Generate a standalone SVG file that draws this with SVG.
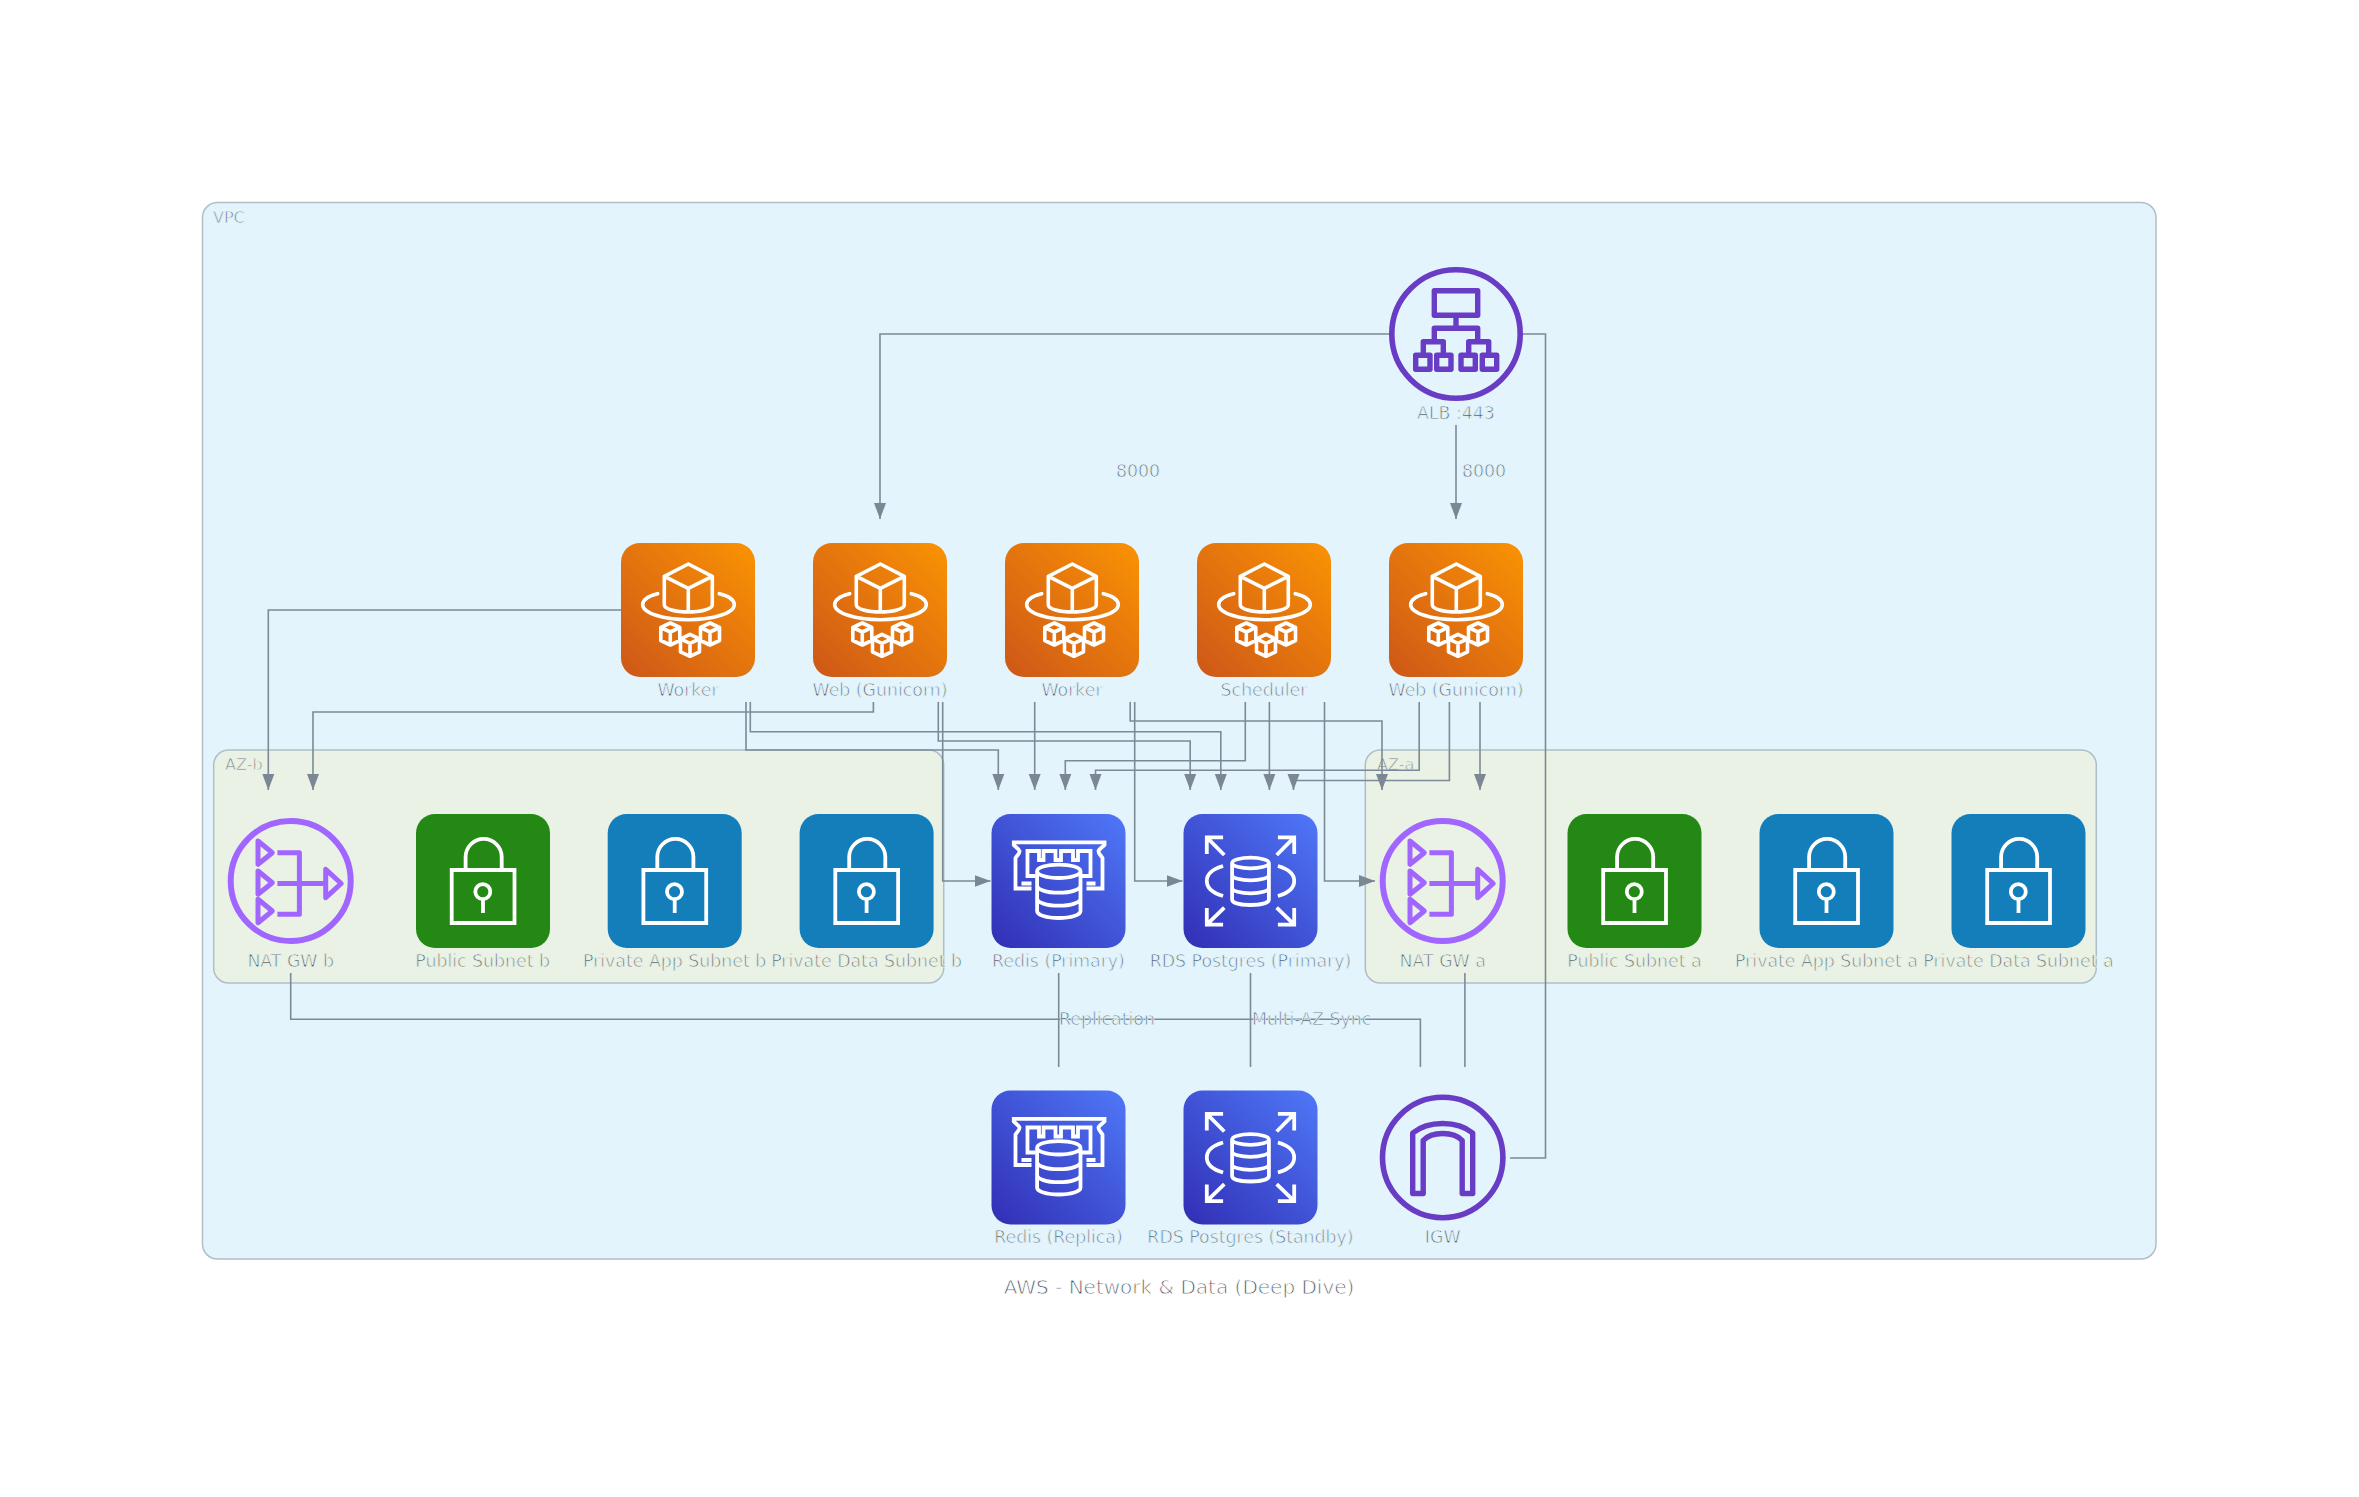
<svg xmlns="http://www.w3.org/2000/svg" xmlns:xlink="http://www.w3.org/1999/xlink" width="2359" height="1497" viewBox="0 0 2359 1497">
<style>
text{font-family:"DejaVu Sans","Liberation Sans",sans-serif;fill:#46525C;font-size:17.33px;stroke:#E3F4FC;stroke-width:.85}
.lb{text-anchor:middle}
.cl{font-size:16px}
.tt{font-size:20px;text-anchor:middle;stroke:#fff}
.oa{stroke:#EAF2E6}
.vpc{fill:#E3F4FC;stroke:#B0BEC5;stroke-width:1.5}
.az{fill:#EAF2E6;stroke:#B0BEC5;stroke-width:1.5}
.e{fill:none;stroke:#7B8A96;stroke-width:1.6}
.a{marker-end:url(#ah)}
.w{fill:none;stroke:#fff;stroke-width:3.6;stroke-linejoin:round;stroke-linecap:round}
.w2{fill:none;stroke:#fff;stroke-width:3.8;stroke-linejoin:miter;stroke-linecap:butt}
.n{fill:none;stroke:#A166FF;stroke-width:5;stroke-linejoin:round;stroke-linecap:butt}
.p{fill:none;stroke:#693CC5;stroke-width:5.4;stroke-linejoin:round;stroke-linecap:butt}
</style>
<defs>
<linearGradient id="go" x1="-0.1" y1="1.1" x2="1.1" y2="-0.1"><stop offset="0" stop-color="#C8511B"/><stop offset="1" stop-color="#FF9900"/></linearGradient>
<linearGradient id="gb" x1="-0.1" y1="1.1" x2="1.1" y2="-0.1"><stop offset="0" stop-color="#2E27AD"/><stop offset="1" stop-color="#527FFF"/></linearGradient>
<marker id="ah" markerUnits="userSpaceOnUse" markerWidth="17" markerHeight="14" refX="16" refY="7" orient="auto"><path d="M0 1 L16 7 L0 13 Z" fill="#7B8794"/></marker>
<g id="cube"><path d="M0-11 L9.5-6.5 V6.5 L0 11 L-9.5 6.5 V-6.5 Z M-9.5-6.5 L0-2 L9.5-6.5 M0-2 V11" class="w"/></g>
<g id="fargate">
<rect width="134" height="134" rx="19" fill="url(#go)"/>
<path class="w" d="M67.3 21 L91.3 33.3 V61.7 C91.3 66 80 69 67.3 69 C54.6 69 43.3 66 43.3 61.7 V33.3 Z M43.3 33.3 L67.3 45.3 L91.3 33.3 M67.3 45.3 V69"/>
<path class="w" d="M36.7 50.7 C27 53 21.7 57 21.7 61.7 C21.7 70 42 76.7 67.3 76.7 C92.6 76.7 113.3 70 113.3 61.7 C113.3 57 108 53 98.3 50.7"/>
<use xlink:href="#cube" href="#cube" x="49.3" y="91"/><use xlink:href="#cube" href="#cube" x="89" y="91"/><use xlink:href="#cube" href="#cube" x="69" y="102.3"/>
</g>
<g id="lock">
<path class="w2" d="M35.7 56 H98.5 V109 H35.7 Z M49.6 56 V43 A18 18 0 0 1 85.7 43 V56 M67 85 V99"/>
<ellipse class="w2" cx="66.8" cy="77.7" rx="7.5" ry="7.5"/>
</g>
<g id="lockg"><rect width="134" height="134" rx="19" fill="#248814"/><use xlink:href="#lock" href="#lock"/></g>
<g id="lockb"><rect width="134" height="134" rx="19" fill="#147EBA"/><use xlink:href="#lock" href="#lock"/></g>
<g id="redis">
<rect width="134" height="134" rx="19" fill="url(#gb)"/>
<path class="w2" d="M40 74.5 H24 V44 C26 41 28.5 39 28 37 C27.5 35 24 33 22.3 31 V28.3 H113 V31 C111 33 107.5 35 107 37 C106.5 39 109 41 111 44 V74.5 H95 M30 69.5 H40 M95 69.5 H104"/>
<path class="w2" d="M44 62 H36 V37 H47.5 V46 H52 V37 H64 V46 H69.5 V37 H81.5 V46 H86.5 V37 H99 V62 H90"/>
<path class="w2" d="M45.6 57.3 C45.6 53.5 55 50.6 67.3 50.6 C79.6 50.6 89 53.5 89 57.3 V97 C89 101 79.6 104 67.3 104 C55 104 45.6 101 45.6 97 Z M45.6 57.3 C45.6 61 55 64 67.3 64 C79.6 64 89 61 89 57.3 M45.6 71.5 C45.6 75.5 55 78.7 67.3 78.7 C79.6 78.7 89 75.5 89 71.5 M45.6 84.5 C45.6 88.5 55 91.7 67.3 91.7 C79.6 91.7 89 88.5 89 84.5" />
</g>
<g id="rds">
<rect width="134" height="134" rx="19" fill="url(#gb)"/>
<path class="w2" d="M48.6 49 C48.6 46 57 43.7 67 43.7 C77 43.7 85.4 46 85.4 49 V85.5 C85.4 89 77 91 67 91 C57 91 48.6 89 48.6 85.5 Z M48.6 49 C48.6 52 57 54.3 67 54.3 C77 54.3 85.4 52 85.4 49 M48.6 61 C48.6 64 57 66.3 67 66.3 C77 66.3 85.4 64 85.4 61 M48.6 74 C48.6 77 57 79.3 67 79.3 C77 79.3 85.4 77 85.4 74"/>
<path class="w2" d="M39.6 52 C29 55 23.3 60 23.3 67 C23.3 74 29 79 39.6 82 M94.4 52 C105 55 110.7 60 110.7 67 C110.7 74 105 79 94.4 82"/>
<path class="w2" d="M39.6 23.3 H23.3 V40 M23.3 23.3 L40.8 41 M94.4 23.3 H110.7 V40 M110.7 23.3 L93.2 41 M39.6 110.7 H23.3 V94 M23.3 110.7 L40.8 93.7 M94.4 110.7 H110.7 V94 M110.7 110.7 L93.2 93.7"/>
</g>
<g id="nat">
<circle r="60" fill="none" stroke="#A166FF" stroke-width="6"/>
<path class="n" d="M-32.7-40 L-18.4-28.3 L-32.7-16.7 Z M-32.7-10 L-18.4 1.7 L-32.7 13.3 Z M-32.7 18.3 L-18.4 30 L-32.7 41.7 Z M35-11.7 L50.5 2.5 L35 16.7 Z M-13.3-28.3 H8.7 V33.3 H-13.3 M-13.3 2.5 H35"/>
</g>
</defs>
<rect width="2359" height="1497" fill="#fff"/>
<g id="vpc"><rect class="vpc" x="202.5" y="202.5" width="1953.5" height="1056.5" rx="15"/><text class="cl" x="213" y="223">VPC</text></g>
<g id="az-b"><rect class="az" x="213.7" y="750" width="730" height="233" rx="15"/><text class="cl oa" x="225" y="770">AZ-b</text></g>
<g id="az-a"><rect class="az" x="1365.3" y="750" width="731" height="233" rx="15"/><text class="cl oa" x="1377" y="770">AZ-a</text></g>
<g id="connectors">
<path class="e a" d="M1389 334H880V519"/>
<path class="e" d="M1523 334H1545.5V1158H1510"/>
<path class="e a" d="M1456 425V519"/>
<path class="e a" d="M621 610H268.3V790"/>
<path class="e a" d="M873.4 702V712H313V790"/>
<path class="e a" d="M746 702V750H998.3V790"/>
<path class="e a" d="M750.3 702V731.7H1220.8V790"/>
<path class="e a" d="M938.3 702V741H1190.2V790"/>
<path class="e a" d="M942.7 702V881H990.6"/>
<path class="e a" d="M1034.7 702V790"/>
<path class="e a" d="M1130.2 702V721H1382V790"/>
<path class="e a" d="M1134.7 702V881H1182.6"/>
<path class="e a" d="M1245.3 702V760.7H1065.3V790"/>
<path class="e a" d="M1269.4 702V790"/>
<path class="e a" d="M1324.5 702V881H1375"/>
<path class="e a" d="M1419.2 702V770.3H1095.5V790"/>
<path class="e a" d="M1449.4 702V780.5H1293.5V790"/>
<path class="e a" d="M1480 702V790"/>
<path class="e" d="M1058.7 973V1067"/>
<path class="e" d="M1250.5 973V1067"/>
<path class="e" d="M290.7 973V1019.3H1420.4V1067"/>
<path class="e" d="M1464.9 973V1067"/>
<text x="1116" y="477">8000</text>
<text x="1462" y="477">8000</text>
<text x="1059" y="1025">Replication</text>
<text x="1252" y="1025">Multi-AZ Sync</text>
</g>
<g id="worker-b"><use xlink:href="#fargate" href="#fargate" x="621" y="543"/><text class="lb" x="688" y="696">Worker</text></g>
<g id="web-b"><use xlink:href="#fargate" href="#fargate" x="813" y="543"/><text class="lb" x="880" y="696">Web (Gunicorn)</text></g>
<g id="worker-a"><use xlink:href="#fargate" href="#fargate" x="1005" y="543"/><text class="lb" x="1072" y="696">Worker</text></g>
<g id="scheduler"><use xlink:href="#fargate" href="#fargate" x="1197" y="543"/><text class="lb" x="1264" y="696">Scheduler</text></g>
<g id="web-a"><use xlink:href="#fargate" href="#fargate" x="1389" y="543"/><text class="lb" x="1456" y="696">Web (Gunicorn)</text></g>
<g id="alb">
<circle cx="1456" cy="334" r="64.2" fill="none" stroke="#693CC5" stroke-width="5.6"/>
<g transform="translate(1456 334)"><path class="p" d="M-21.7-43.3H21.7V-18.7H-21.7Z M0-18.7V-5.7 M-21.7 7.7V-5.7H21.7V7.7 M-32.7 21.3V7.7H-12.7V21.3 M12.7 21.3V7.7H32.7V21.3 M-40.3 21.3H-26V35.3H-40.3Z M-19.3 21.3H-5V35.3H-19.3Z M5 21.3H19.3V35.3H5Z M26.3 21.3H40.7V35.3H26.3Z"/></g>
<text class="lb" x="1456" y="419">ALB :443</text></g>
<g id="nat-b"><use xlink:href="#nat" href="#nat" x="290.7" y="881"/><text class="lb oa" x="290.7" y="967">NAT GW b</text></g>
<g id="public-b"><use xlink:href="#lockg" href="#lockg" x="416" y="814"/><text class="lb oa" x="482.7" y="967">Public Subnet b</text></g>
<g id="app-b"><use xlink:href="#lockb" href="#lockb" x="607.7" y="814"/><text class="lb oa" x="674.6" y="967">Private App Subnet b</text></g>
<g id="data-b"><use xlink:href="#lockb" href="#lockb" x="799.6" y="814"/><text class="lb oa" x="866.6" y="967">Private Data Subnet b</text></g>
<g id="redis-p"><use xlink:href="#redis" href="#redis" x="991.5" y="814"/><text class="lb" x="1058.5" y="967">Redis (Primary)</text></g>
<g id="rds-p"><use xlink:href="#rds" href="#rds" x="1183.5" y="814"/><text class="lb" x="1250.5" y="967">RDS Postgres (Primary)</text></g>
<g id="nat-a"><use xlink:href="#nat" href="#nat" x="1442.7" y="881"/><text class="lb oa" x="1442.7" y="967">NAT GW a</text></g>
<g id="public-a"><use xlink:href="#lockg" href="#lockg" x="1567.5" y="814"/><text class="lb oa" x="1634.5" y="967">Public Subnet a</text></g>
<g id="app-a"><use xlink:href="#lockb" href="#lockb" x="1759.5" y="814"/><text class="lb oa" x="1826.5" y="967">Private App Subnet a</text></g>
<g id="data-a"><use xlink:href="#lockb" href="#lockb" x="1951.5" y="814"/><text class="lb oa" x="2018.5" y="967">Private Data Subnet a</text></g>
<g id="redis-r"><use xlink:href="#redis" href="#redis" x="991.5" y="1090.5"/><text class="lb" x="1058.5" y="1243">Redis (Replica)</text></g>
<g id="rds-s"><use xlink:href="#rds" href="#rds" x="1183.5" y="1090.5"/><text class="lb" x="1250.5" y="1243">RDS Postgres (Standby)</text></g>
<g id="igw">
<circle cx="1442.7" cy="1157.5" r="60.2" fill="none" stroke="#693CC5" stroke-width="5.6"/>
<g transform="translate(1442.7 1157.5)"><path class="p" d="M-30 36V-24.5C-22-31-12-34 0-34C12-34 22-31 30-24.5V36H19.5V-17C15-22 8-24 0-24C-8-24-15-22-19.5-17V36Z"/></g>
<text class="lb" x="1442.7" y="1243">IGW</text></g>
<text class="tt" x="1179" y="1294">AWS - Network &amp; Data (Deep Dive)</text>
</svg>
